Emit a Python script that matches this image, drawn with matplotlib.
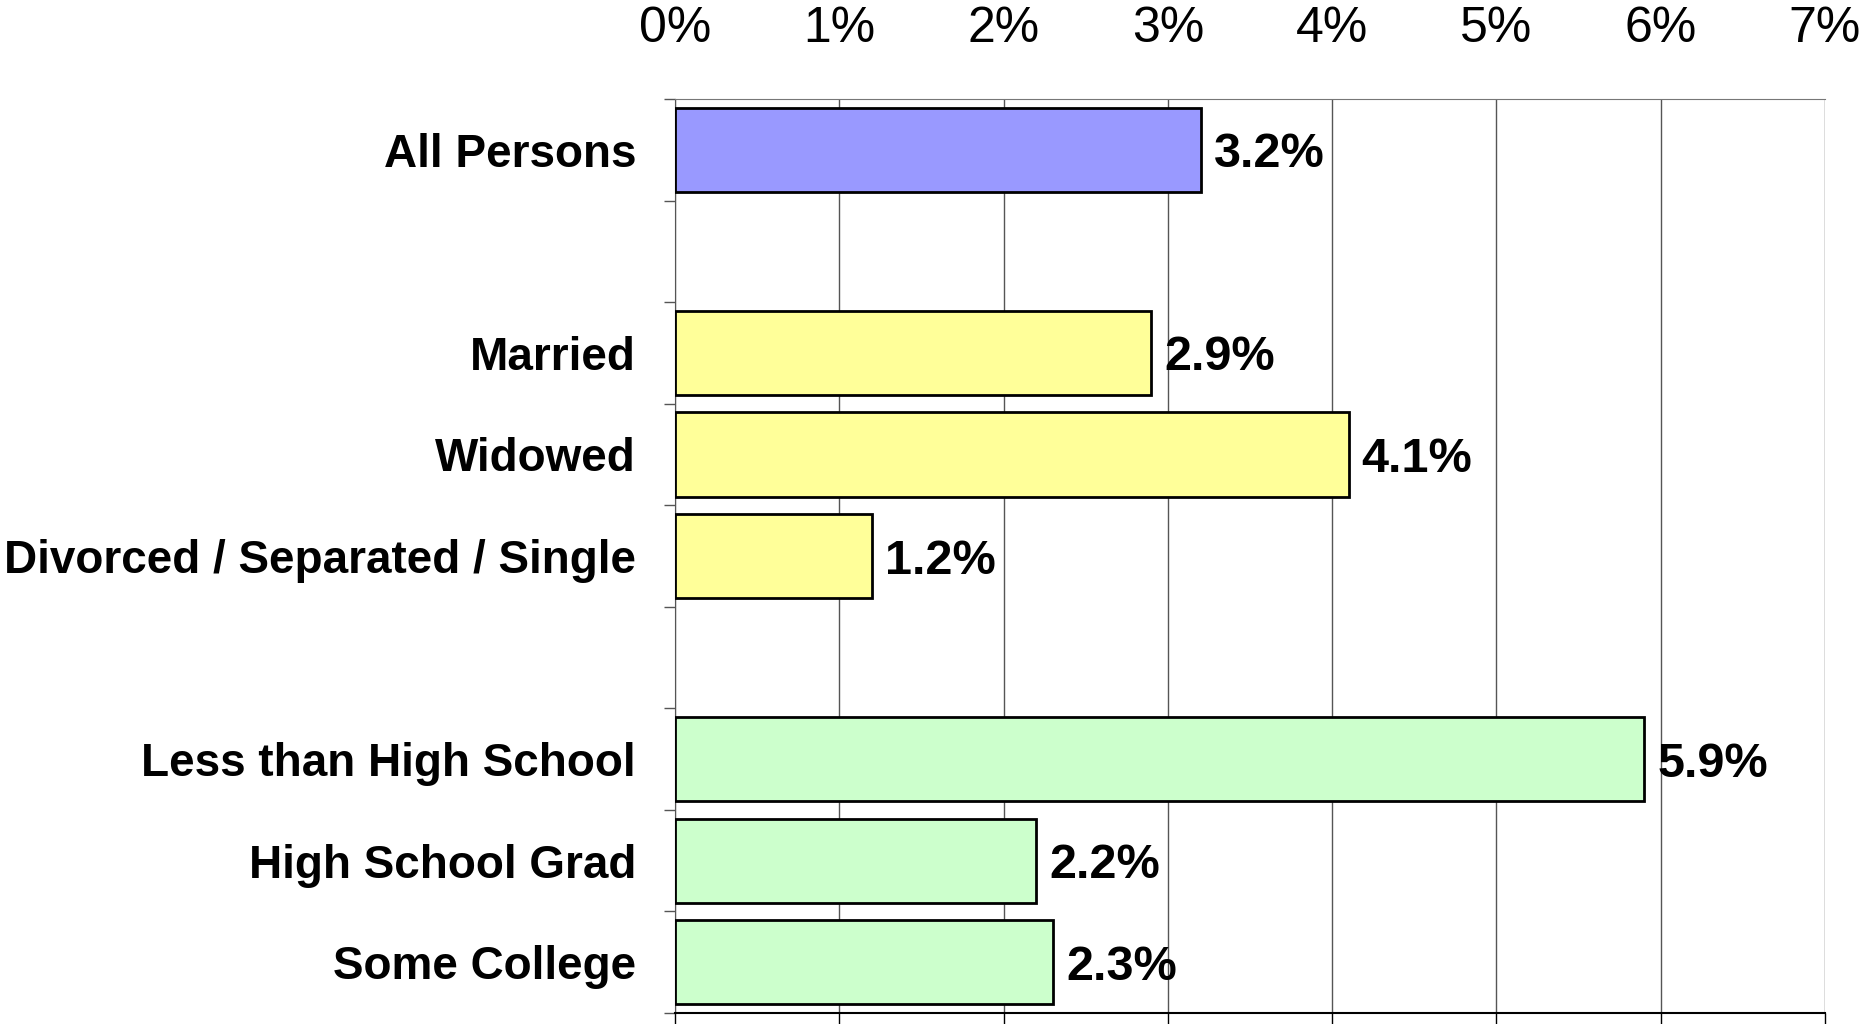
import matplotlib.pyplot as plt
import numpy as np

# data dari grafik
categories = ['All Persons', 'Married', 'Widowed', 'Divorced / Separated / Single',
              'Less than High School', 'High School Grad', 'Some College']
values = [3.2, 2.9, 4.1, 1.2, 5.9, 2.2, 2.3]
slots = [0, 2, 3, 4, 6, 7, 8]  # posisi baris (ada baris kosong antar kelompok)
colors = ['#9999FF', '#FFFF99', '#FFFF99', '#FFFF99', '#CCFFCC', '#CCFFCC', '#CCFFCC']
x_ticks = [0, 1, 2, 3, 4, 5, 6, 7]

plt.rcParams['font.family'] = ['Liberation Sans', 'DejaVu Sans']

fig = plt.figure(figsize=(18.64, 10.24), dpi=100)
ax = fig.add_axes([675 / 1864, 11 / 1024, 1150 / 1864, 914 / 1024])

ax.barh(slots, values, height=0.83, color=colors, edgecolor='black', linewidth=2, zorder=3)

# label nilai di ujung bar
for s, v in zip(slots, values):
    ax.text(v + 0.08, s, f'{v:.1f}%', va='center_baseline', ha='left',
            fontsize=35, fontweight='bold', zorder=4)

ax.set_xlim(0, 7)
ax.set_ylim(8.5, -0.5)
ax.set_xticks(x_ticks)
ax.set_xticklabels([f'{t}%' for t in x_ticks], fontsize=36)
ax.tick_params(axis='x', bottom=True, top=False, labelbottom=False, labeltop=True,
               direction='out', length=8, width=1, pad=26)
ax.grid(axis='x', color='#555555', linewidth=1, zorder=0)

# tick y di batas baris, label kategori di tengah
ax.set_yticks(np.arange(-0.5, 9.0, 1.0))
ax.set_yticklabels([])
ax.set_yticks(slots, minor=True)
ax.set_yticklabels(categories, minor=True, fontsize=33, fontweight='bold')
ax.tick_params(axis='y', which='major', direction='out', length=8, width=1, color='#555555')
ax.tick_params(axis='y', which='minor', length=0, pad=28)

ax.spines['top'].set_color('#777777')
ax.spines['left'].set_color('#555555')
ax.spines['right'].set_visible(False)
ax.spines['bottom'].set_color('black')
ax.spines['bottom'].set_linewidth(1.5)

fig.savefig('out.png', dpi=100)
